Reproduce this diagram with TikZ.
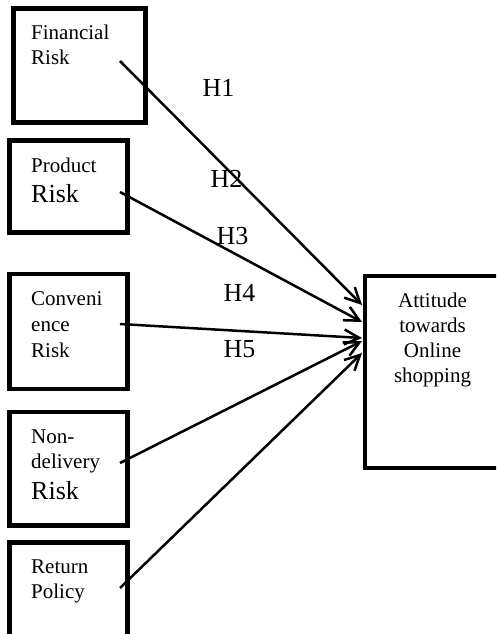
\documentclass[tikz,border=0pt]{standalone}
\usepackage{fontspec}
\setmainfont{Liberation Serif}
\usetikzlibrary{arrows.meta}
\begin{document}
\begin{tikzpicture}[x=1pt,y=-1pt,
  box/.style={draw, rectangle, line width=4.7pt, inner sep=0pt},
  txt/.style={anchor=base west, inner sep=0pt, font=\fontsize{21}{25}\selectfont},
  bigtxt/.style={anchor=base west, inner sep=0pt, font=\fontsize{26}{30}\selectfont},
  ctxt/.style={anchor=base, inner sep=0pt, font=\fontsize{21}{25}\selectfont},
  hyp/.style={anchor=base, inner sep=0pt, font=\fontsize{26}{30}\selectfont},
  arr/.style={line width=2.5pt, -{Straight Barb[length=15pt,width=15pt]}}]
\useasboundingbox (0,0) rectangle (496,634);
\clip (0,0) rectangle (496,634);
% boxes
\node[box, minimum width=132pt, minimum height=114pt] (fin) at (79.5,65.5) {};
\node[box, minimum width=118pt, minimum height=92pt] (prod) at (68.5,186.5) {};
\node[box, minimum width=118pt, minimum height=115pt] (conv) at (68.5,331.5) {};
\node[box, minimum width=118pt, minimum height=113.5pt] (nond) at (68.5,468.75) {};
\node[box, minimum width=118pt, minimum height=115pt] (ret) at (68.5,600) {};
\node[box, minimum width=140pt, minimum height=192pt] (att) at (435,372) {};
% texts
\node[txt] (fin1) at (31,40) {Financial};
\node[txt] (fin2) at (31,65) {Risk};
\node[txt] (prod1) at (31,172) {Product};
\node[bigtxt] (prod2) at (31,202) {Risk};
\node[txt] (conv1) at (31,305) {Conveni};
\node[txt] (conv2) at (31,331) {ence};
\node[txt] (conv3) at (31,357) {Risk};
\node[txt] (nond1) at (31,443) {Non-};
\node[txt] (nond2) at (31,468) {delivery};
\node[bigtxt] (nond3) at (31,499) {Risk};
\node[txt] (ret1) at (31,573) {Return};
\node[txt] (ret2) at (31,598) {Policy};
\node[ctxt] (att1) at (432.5,307) {Attitude};
\node[ctxt] (att2) at (432.5,332) {towards};
\node[ctxt] (att3) at (432.5,357) {Online};
\node[ctxt] (att4) at (432.5,382) {shopping};
% hypothesis labels
\node[hyp] (h1) at (218.5,96) {H1};
\node[hyp] (h2) at (226.5,187) {H2};
\node[hyp] (h3) at (232.5,244) {H3};
\node[hyp] (h4) at (239.5,301) {H4};
\node[hyp] (h5) at (239.5,357) {H5};
% connector ends
\coordinate (s1) at (120,61);
\coordinate (s2) at (120,192);
\coordinate (s3) at (120,324);
\coordinate (s4) at (120,463);
\coordinate (s5) at (120,588);
\coordinate (t1) at (362,305);
\coordinate (t2) at (362,322);
\coordinate (t3) at (362,338);
\coordinate (t4) at (362,341);
\coordinate (t5) at (362,353);
\draw[arr] (s1) -- (t1);
\draw[arr] (s2) -- (t2);
\draw[arr] (s3) -- (t3);
\draw[arr] (s4) -- (t4);
\draw[arr] (s5) -- (t5);
\end{tikzpicture}
\end{document}
